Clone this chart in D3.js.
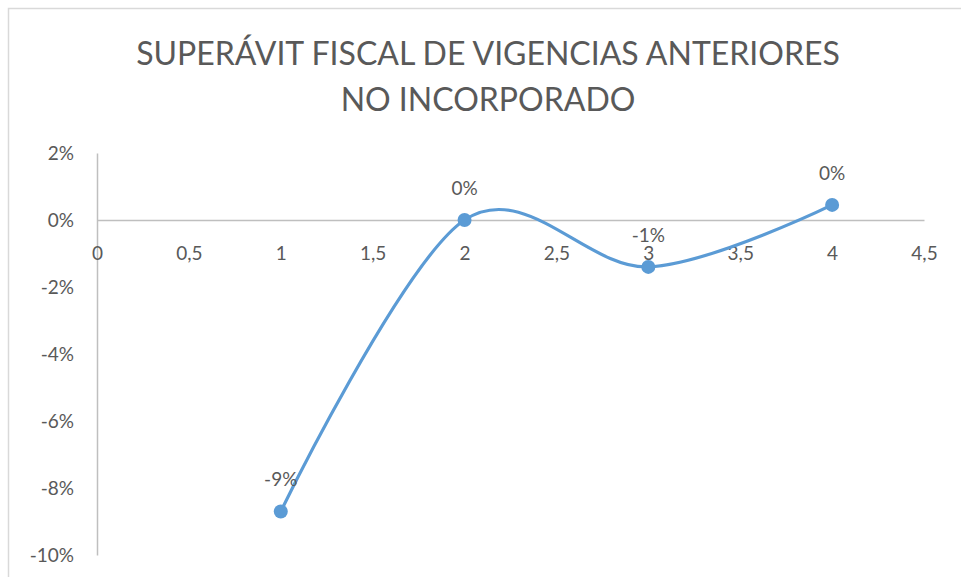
<!DOCTYPE html>
<html lang="es">
    <head>
        <meta charset="utf-8">
        <title>Superávit fiscal de vigencias anteriores</title>
        <script type="text/javascript" src="https://cdn.jsdelivr.net/npm/d3@7"></script>
        <style type="text/css">
            body { margin: 0; background: #fff; }
            text { font-family: Lato, "Open Sans", sans-serif; fill: #595959; }
        </style>
    </head>
    <body>
        <script type="text/javascript">
            // chart data
            var titleLines = ["SUPERÁVIT FISCAL DE VIGENCIAS ANTERIORES", "NO INCORPORADO"];
            var xValues = [1, 2, 3, 4];
            var yValues = [-0.087, 0.0, -0.014, 0.0045];
            var xTicks = [0, 0.5, 1, 1.5, 2, 2.5, 3, 3.5, 4, 4.5];
            var yTicks = [0.02, 0, -0.02, -0.04, -0.06, -0.08, -0.10];

            var w = 961;
            var h = 577;

            var svg = d3.select("body")
                        .append("svg")
                        .attr("width", w)
                        .attr("height", h);

            // chart frame (right / bottom edges fall outside the picture)
            svg.append("rect")
                .attr("x", 8.5)
                .attr("y", 8.5)
                .attr("width", w + 20)
                .attr("height", h + 20)
                .attr("fill", "none")
                .attr("stroke", "#d9d9d9")
                .attr("stroke-width", 1.5);

            var x = d3.scaleLinear().domain([0, 4.5]).range([97, 924]);
            var y = d3.scaleLinear().domain([-0.10, 0.02]).range([555, 153]);

            var comma = function(v) { return String(v).replace(".", ","); };
            var pct = function(v) { return d3.format(".0%")(v).replace("−", "-"); };

            // title
            svg.selectAll("text.title")
                .data(titleLines)
                .enter()
                .append("text")
                .attr("class", "title")
                .attr("x", 488)
                .attr("y", function(d, i) { return 65 + i * 46; })
                .attr("text-anchor", "middle")
                .style("font-size", "32px")
                .text(function(d) { return d; });

            // y axis (vertical line + labels)
            var yAxis = d3.axisLeft(y)
                .tickValues(yTicks)
                .tickSize(0)
                .tickPadding(23)
                .tickFormat(pct);
            var gy = svg.append("g")
                .attr("transform", "translate(" + x(0) + ",0)")
                .call(yAxis);
            gy.select(".domain").attr("stroke", "#bfbfbf").attr("stroke-width", 1.5);
            gy.selectAll("text")
                .attr("fill", "#595959")
                .style("font-size", "19px")
                .style("font-family", "Lato, sans-serif");

            // x axis crossing at 0%
            var xAxis = d3.axisBottom(x)
                .tickValues(xTicks)
                .tickSize(0)
                .tickPadding(23)
                .tickFormat(comma);
            var gx = svg.append("g")
                .attr("transform", "translate(0," + y(0) + ")")
                .call(xAxis);
            gx.select(".domain").attr("stroke", "#bfbfbf").attr("stroke-width", 1.5);
            gx.selectAll("text")
                .attr("fill", "#595959")
                .attr("dy", "0")
                .attr("y", 40)
                .style("font-size", "19px")
                .style("font-family", "Lato, sans-serif");

            var points = xValues.map(function(v, i) { return { x: v, y: yValues[i] }; });

            var line = d3.line()
                .x(function(d) { return x(d.x); })
                .y(function(d) { return y(d.y); })
                .curve(d3.curveCardinal.tension(0));

            svg.append("path")
                .datum(points)
                .attr("d", line)
                .attr("fill", "none")
                .attr("stroke", "#5b9bd5")
                .attr("stroke-width", 3.2)
                .attr("stroke-linecap", "round");

            svg.selectAll("circle")
                .data(points)
                .enter()
                .append("circle")
                .attr("cx", function(d) { return x(d.x); })
                .attr("cy", function(d) { return y(d.y); })
                .attr("r", 7)
                .attr("fill", "#5b9bd5");

            svg.selectAll("text.lbl")
                .data(points)
                .enter()
                .append("text")
                .attr("class", "lbl")
                .attr("x", function(d) { return x(d.x); })
                .attr("y", function(d) { return y(d.y) - 25; })
                .attr("text-anchor", "middle")
                .style("font-size", "19px")
                .text(function(d) { return pct(d.y); });
        </script>
    </body>
</html>
